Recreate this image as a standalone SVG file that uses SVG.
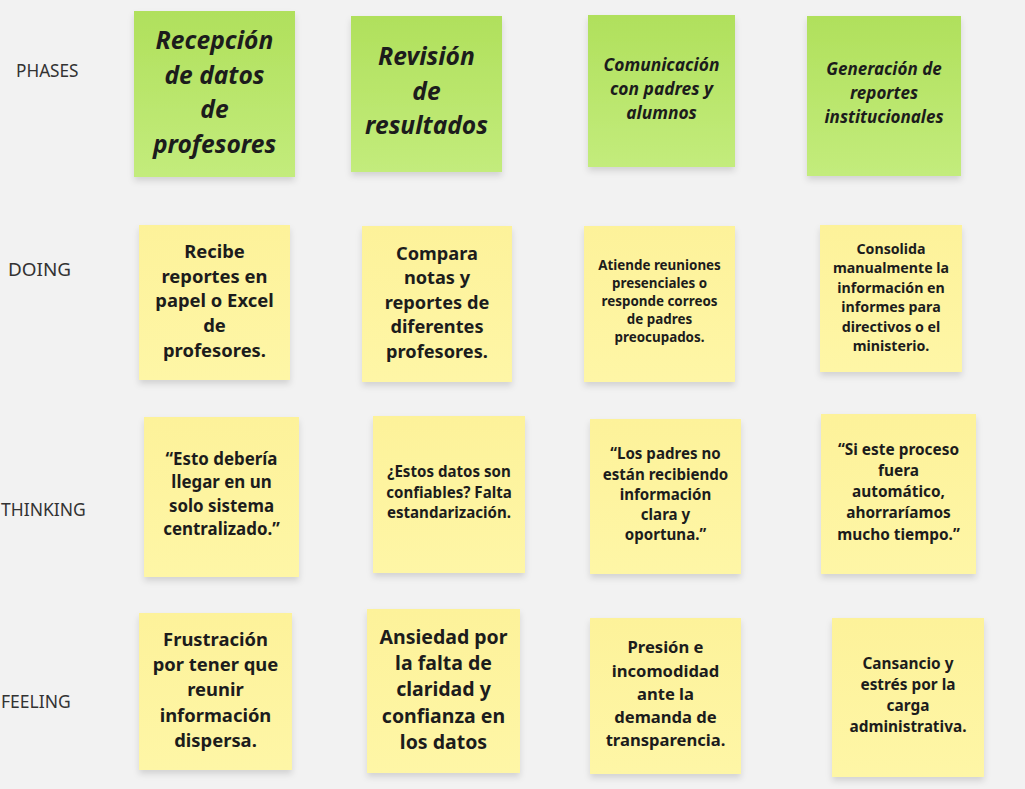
<svg xmlns="http://www.w3.org/2000/svg" width="1025" height="789" viewBox="0 0 1025 789">
<defs>
<linearGradient id="gG" x1="0" y1="0" x2="0" y2="1"><stop offset="0" stop-color="#b0e05c"/><stop offset="1" stop-color="#c3ec7c"/></linearGradient>
<linearGradient id="gY" x1="0" y1="0" x2="0" y2="1"><stop offset="0" stop-color="#fdf29a"/><stop offset="1" stop-color="#fef6a6"/></linearGradient>
<filter id="sh" x="-10%" y="-10%" width="120%" height="130%"><feDropShadow dx="0" dy="4" stdDeviation="3" flood-color="#000" flood-opacity="0.13"/></filter>
</defs>
<style>
.lab{font-family:"Noto Sans","Open Sans",sans-serif;fill:#333}
.g{fill:url(#gG);filter:url(#sh)}
.y{fill:url(#gY);filter:url(#sh)}
text.t{font-family:"Noto Sans","Open Sans",sans-serif;font-weight:700;fill:#1c1c1c;text-anchor:middle}
.it{font-style:italic}
</style>
<rect width="1025" height="789" fill="#f2f2f2"/>
<g id="labels">
<text class="lab" font-size="17.2" x="16" y="76.5">PHASES</text>
<text class="lab" font-size="18.9" x="8" y="276">DOING</text>
<text class="lab" font-size="17.5" x="1" y="516">THINKING</text>
<text class="lab" font-size="17.5" x="1" y="708">FEELING</text>
</g>
<g id="connectors"/>
<g id="phase1"><rect class="g" x="134" y="11" width="161" height="166"/>
<text class="t it" font-size="24.6"><tspan x="214.5" y="49">Recepción</tspan><tspan x="214.5" y="83.5">de datos</tspan><tspan x="214.5" y="118">de</tspan><tspan x="214.5" y="152.5">profesores</tspan></text></g>
<g id="phase2"><rect class="g" x="351" y="16" width="151" height="156"/>
<text class="t it" font-size="24.6"><tspan x="426.5" y="65">Revisión</tspan><tspan x="426.5" y="99.5">de</tspan><tspan x="426.5" y="134">resultados</tspan></text></g>
<g id="phase3"><rect class="g" x="588" y="15" width="147" height="152"/>
<text class="t it" font-size="17.4"><tspan x="661.5" y="71">Comunicación</tspan><tspan x="661.5" y="95">con padres y</tspan><tspan x="661.5" y="119">alumnos</tspan></text></g>
<g id="phase4"><rect class="g" x="807" y="16" width="154" height="160"/>
<text class="t it" font-size="17"><tspan x="884" y="75">Generación de</tspan><tspan x="884" y="99">reportes</tspan><tspan x="884" y="123">institucionales</tspan></text></g>

<g id="doing1"><rect class="y" x="139" y="225" width="151" height="155"/>
<text class="t" font-size="18.4"><tspan x="214.5" y="258">Recibe</tspan><tspan x="214.5" y="282.7">reportes en</tspan><tspan x="214.5" y="307.3">papel o Excel</tspan><tspan x="214.5" y="332">de</tspan><tspan x="214.5" y="356.7">profesores.</tspan></text></g>
<g id="doing2"><rect class="y" x="362" y="226" width="150" height="156"/>
<text class="t" font-size="18.2"><tspan x="437" y="259.5">Compara</tspan><tspan x="437" y="284">notas y</tspan><tspan x="437" y="308.5">reportes de</tspan><tspan x="437" y="333">diferentes</tspan><tspan x="437" y="357.5">profesores.</tspan></text></g>
<g id="doing3"><rect class="y" x="584" y="226" width="151" height="156"/>
<text class="t" font-size="13.4"><tspan x="659.5" y="270.3">Atiende reuniones</tspan><tspan x="659.5" y="288.3">presenciales o</tspan><tspan x="659.5" y="306.3">responde correos</tspan><tspan x="659.5" y="324.3">de padres</tspan><tspan x="659.5" y="342.3">preocupados.</tspan></text></g>
<g id="doing4"><rect class="y" x="820" y="225" width="142" height="147"/>
<text class="t" font-size="14.2"><tspan x="891" y="253.5">Consolida</tspan><tspan x="891" y="273">manualmente la</tspan><tspan x="891" y="292.5">información en</tspan><tspan x="891" y="312">informes para</tspan><tspan x="891" y="331.5">directivos o el</tspan><tspan x="891" y="351">ministerio.</tspan></text></g>

<g id="think1"><rect class="y" x="144" y="417" width="155" height="160"/>
<text class="t" font-size="16.9"><tspan x="221.5" y="465">“Esto debería</tspan><tspan x="221.5" y="488.3">llegar en un</tspan><tspan x="221.5" y="511.7">solo sistema</tspan><tspan x="221.5" y="535">centralizado.”</tspan></text></g>
<g id="think2"><rect class="y" x="373" y="416" width="152" height="157"/>
<text class="t" font-size="15.1"><tspan x="449" y="477.3">¿Estos datos son</tspan><tspan x="449" y="497.8">confiables? Falta</tspan><tspan x="449" y="518.3">estandarización.</tspan></text></g>
<g id="think3"><rect class="y" x="590" y="419" width="151" height="155"/>
<text class="t" font-size="15.1"><tspan x="665.5" y="459.3">“Los padres no</tspan><tspan x="665.5" y="479.5">están recibiendo</tspan><tspan x="665.5" y="499.7">información</tspan><tspan x="665.5" y="519.9">clara y</tspan><tspan x="665.5" y="540.1">oportuna.”</tspan></text></g>
<g id="think4"><rect class="y" x="821" y="414" width="155" height="160"/>
<text class="t" font-size="15.4"><tspan x="898.5" y="455">“Si este proceso</tspan><tspan x="898.5" y="476">fuera</tspan><tspan x="898.5" y="497.2">automático,</tspan><tspan x="898.5" y="518.3">ahorraríamos</tspan><tspan x="898.5" y="539.8">mucho tiempo.”</tspan></text></g>

<g id="feel1"><rect class="y" x="139" y="613" width="153" height="157"/>
<text class="t" font-size="18.4"><tspan x="215.5" y="646">Frustración</tspan><tspan x="215.5" y="671.2">por tener que</tspan><tspan x="215.5" y="696.4">reunir</tspan><tspan x="215.5" y="721.6">información</tspan><tspan x="215.5" y="746.8">dispersa.</tspan></text></g>
<g id="feel2"><rect class="y" x="367" y="609" width="153" height="164"/>
<text class="t" font-size="19.5"><tspan x="443.5" y="644">Ansiedad por</tspan><tspan x="443.5" y="670.2">la falta de</tspan><tspan x="443.5" y="696.4">claridad y</tspan><tspan x="443.5" y="722.6">confianza en</tspan><tspan x="443.5" y="748.8">los datos</tspan></text></g>
<g id="feel3"><rect class="y" x="590" y="618" width="151" height="156"/>
<text class="t" font-size="16.6"><tspan x="665.5" y="653.3">Presión e</tspan><tspan x="665.5" y="676.5">incomodidad</tspan><tspan x="665.5" y="699.7">ante la</tspan><tspan x="665.5" y="722.9">demanda de</tspan><tspan x="665.5" y="746.3">transparencia.</tspan></text></g>
<g id="feel4"><rect class="y" x="832" y="618" width="152" height="159"/>
<text class="t" font-size="15.4"><tspan x="908" y="668.5">Cansancio y</tspan><tspan x="908" y="689.5">estrés por la</tspan><tspan x="908" y="710.5">carga</tspan><tspan x="908" y="731.5">administrativa.</tspan></text></g>
</svg>
